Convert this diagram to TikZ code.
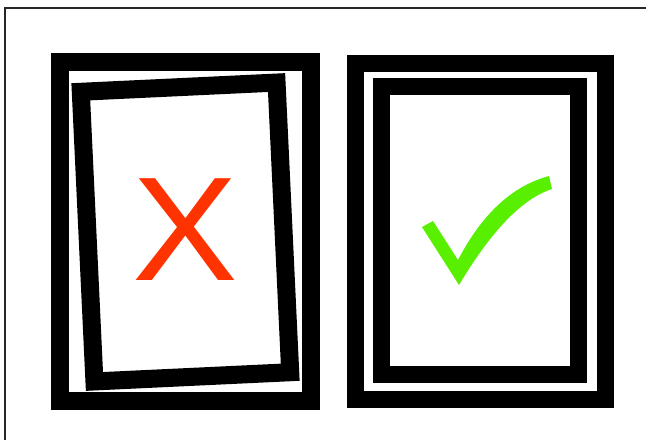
\documentclass[tikz,border=0pt]{standalone}
\usepackage{fontspec}
\newfontfamily\markfont{Liberation Sans}
\usepackage{xcolor}
\definecolor{crossred}{HTML}{FF3300}
\definecolor{tickgreen}{HTML}{58F000}
\usepackage{tikz}

\begin{document}
\begin{tikzpicture}[x=1pt,y=-1pt,
  frame/.style={draw=black,line width=18pt,inner sep=0pt,outer sep=0pt},
  glyph/.style={font=\markfont\fontsize{148}{148}\selectfont,inner sep=0pt}]
  \useasboundingbox (0,0) rectangle (646,440);
  % page edge
  \draw[line width=1.3pt,black!85] (5,440) -- (5,8) -- (646,8);
  % wrong: tilted inner frame
  \node[frame,minimum width=251pt,minimum height=339pt] (badouter) at (185.5,231.5) {};
  \node[frame,minimum width=196pt,minimum height=290pt,rotate=2.7] (badinner) at (185.5,232) {};
  \node[glyph,text=crossred,xscale=1.07] (cross) at (185,230) {X};
  % right: straight inner frame
  \node[frame,line width=17pt,minimum width=250pt,minimum height=336pt] (goodouter) at (480.5,231.5) {};
  \node[frame,line width=17pt,minimum width=197pt,minimum height=288pt] (goodinner) at (480,230.5) {};
  \fill[tickgreen] (422,227) -- (433,221) -- (458,260)
    .. controls (482,214) and (512,186) .. (549,176) -- (552,189)
    .. controls (521,199) and (490,233) .. (459,285) -- cycle;
\end{tikzpicture}
\end{document}
